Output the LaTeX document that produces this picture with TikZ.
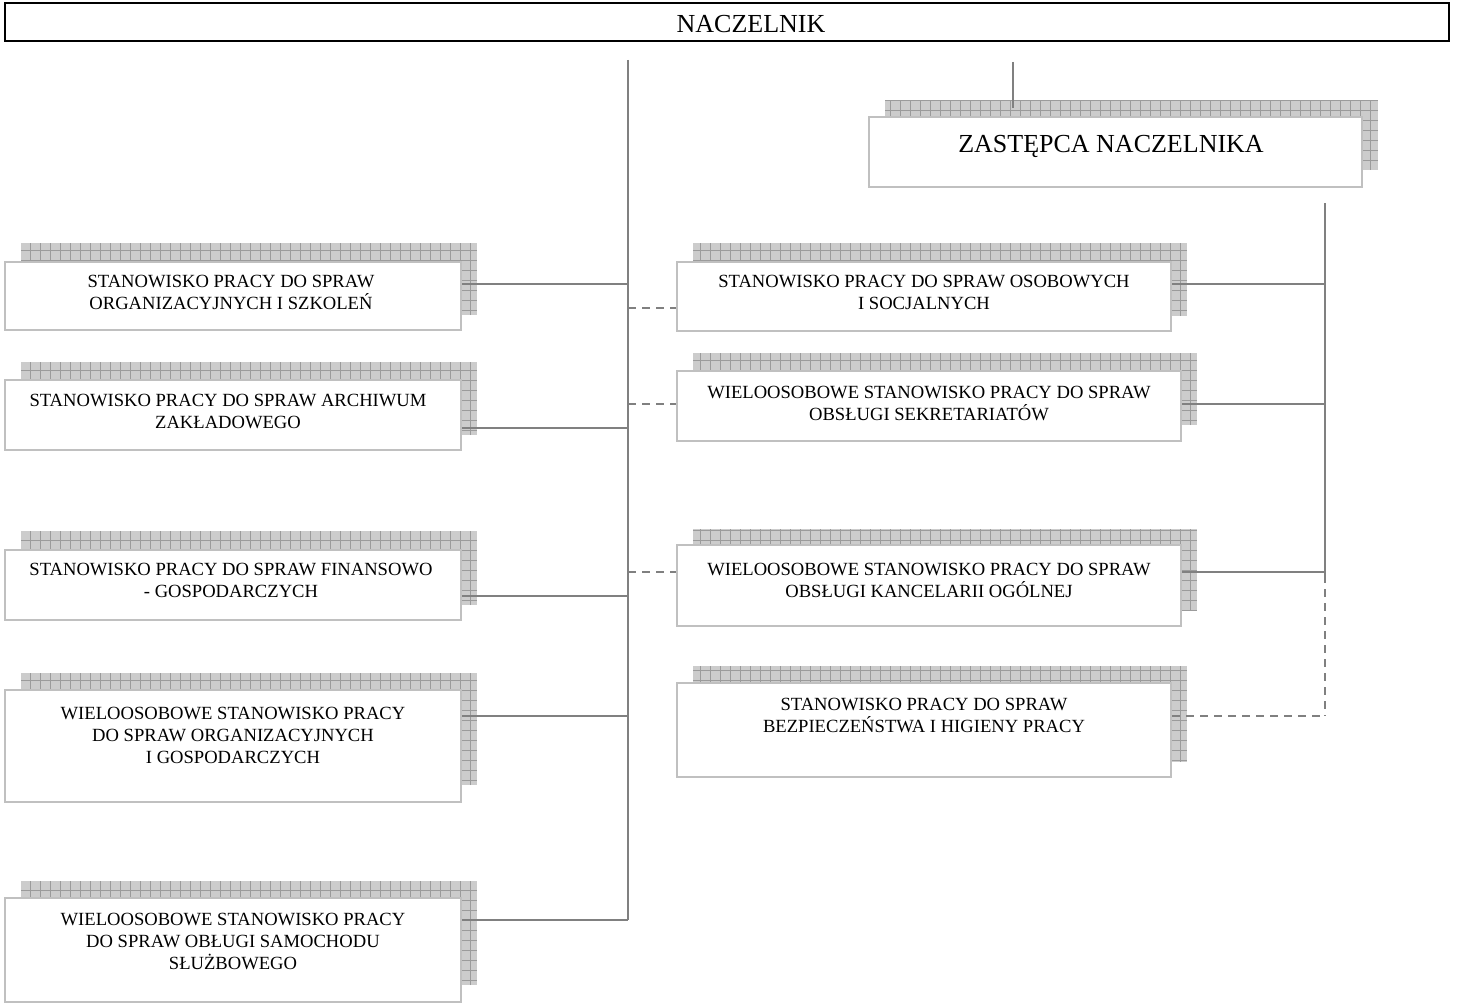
\documentclass[tikz,border=0pt]{standalone}
\usepackage{fontspec}
\setmainfont{Liberation Serif}
\definecolor{boxgray}{RGB}{192,192,192}
\definecolor{linegray}{RGB}{128,128,128}
\definecolor{shfill}{RGB}{204,204,204}
\definecolor{shgrid}{RGB}{155,155,155}
\newcommand\shadowrect[4]{%
  \begin{scope}
    \clip (#1,#2) rectangle (#3,#4);
    \fill[shfill] (#1,#2) rectangle (#3,#4);
    \draw[shgrid, line width=0.8pt, xstep=10pt, ystep=10pt] (#1,#2) grid (#3,#4);
  \end{scope}}
\begin{document}
\begin{tikzpicture}[x=1pt,y=-1pt,
  box/.style={draw=boxgray, line width=2pt, fill=white, inner sep=0pt},
  txt/.style={align=center, inner sep=0pt, font=\fontsize{18.6}{22}\selectfont},
  conn/.style={draw=linegray, line width=2pt},
  dconn/.style={conn, dash pattern=on 8pt off 6pt}]
\useasboundingbox (0,0) rectangle (1458,1003);

% shadows
\shadowrect{885}{100}{1378}{170}
\shadowrect{21}{243}{477}{315}
\shadowrect{21}{362}{477}{435}
\shadowrect{21}{531}{477}{605}
\shadowrect{21}{673}{477}{785}
\shadowrect{21}{881}{477}{985}
\shadowrect{693}{243}{1187}{316}
\shadowrect{693}{353}{1197}{425}
\shadowrect{693}{529}{1197}{610}
\shadowrect{693}{666}{1187}{762}

% top box
\node[draw=black, line width=2pt, minimum width=1444pt, minimum height=38pt, inner sep=0pt] (nacz) at (727,22) {};
\node[inner sep=0pt, font=\fontsize{26}{30}\selectfont] (naczt) at (751,24) {NACZELNIK};

% deputy
\node[box, minimum width=493pt, minimum height=70pt] (zast) at (1115.5,152) {};
\node[inner sep=0pt, font=\fontsize{26}{30}\selectfont] (zastt) at (1111,146) {ZASTĘPCA NACZELNIKA};

% left boxes
\node[box, minimum width=456pt, minimum height=68pt] (l1) at (233,296) {};
\node[txt] (l1t) at (231,292) {STANOWISKO PRACY DO SPRAW\\ORGANIZACYJNYCH I SZKOLEŃ};
\node[box, minimum width=456pt, minimum height=70pt] (l2) at (233,415) {};
\node[txt] (l2t) at (228,411) {STANOWISKO PRACY DO SPRAW ARCHIWUM\\ZAKŁADOWEGO};
\node[box, minimum width=456pt, minimum height=70pt] (l3) at (233,585) {};
\node[txt] (l3t) at (231,580) {STANOWISKO PRACY DO SPRAW FINANSOWO\\- GOSPODARCZYCH};
\node[box, minimum width=456pt, minimum height=112pt] (l4) at (233,746) {};
\node[txt] (l4t) at (233,735) {WIELOOSOBOWE STANOWISKO PRACY\\DO SPRAW ORGANIZACYJNYCH\\I GOSPODARCZYCH};
\node[box, minimum width=456pt, minimum height=104pt] (l5) at (233,950) {};
\node[txt] (l5t) at (233,941) {WIELOOSOBOWE STANOWISKO PRACY\\DO SPRAW OBŁUGI SAMOCHODU\\SŁUŻBOWEGO};

% right boxes
\node[box, minimum width=494pt, minimum height=69pt] (r1) at (924,296.5) {};
\node[txt] (r1t) at (924,292) {STANOWISKO PRACY DO SPRAW OSOBOWYCH\\I SOCJALNYCH};
\node[box, minimum width=504pt, minimum height=70pt] (r2) at (929,406) {};
\node[txt] (r2t) at (929,403) {WIELOOSOBOWE STANOWISKO PRACY DO SPRAW\\OBSŁUGI SEKRETARIATÓW};
\node[box, minimum width=504pt, minimum height=81pt] (r3) at (929,585.5) {};
\node[txt] (r3t) at (929,580) {WIELOOSOBOWE STANOWISKO PRACY DO SPRAW\\OBSŁUGI KANCELARII OGÓLNEJ};
\node[box, minimum width=494pt, minimum height=94pt] (r4) at (924,730) {};
\node[txt] (r4t) at (924,715) {STANOWISKO PRACY DO SPRAW\\BEZPIECZEŃSTWA I HIGIENY PRACY};

% trunk coordinates
\coordinate (mtop) at (628,60);
\coordinate (mbot) at (628,920);
\coordinate (ztop) at (1013,62);
\coordinate (zbot) at (1013,108);
\coordinate (rtop) at (1325,203);
\coordinate (rmid) at (1325,575);
\coordinate (rbot) at (1325,716);

\draw[conn] (mtop) -- (mbot);
\draw[conn] (ztop) -- (zbot);
\draw[conn] (rtop) -- (rmid);
\draw[dconn] (rmid) -- (rbot);

% left connectors
\coordinate (m1) at (628,284);
\coordinate (m2) at (628,428);
\coordinate (m3) at (628,596);
\coordinate (m4) at (628,716);
\coordinate (m5) at (628,920);
\draw[conn] (l1.east |- m1) -- (m1);
\draw[conn] (l2.east |- m2) -- (m2);
\draw[conn] (l3.east |- m3) -- (m3);
\draw[conn] (l4.east |- m4) -- (m4);
\draw[conn] (l5.east |- m5) -- (m5);

% dashed links to right boxes
\coordinate (d1) at (628,308);
\coordinate (d2) at (628,404);
\coordinate (d3) at (628,572);
\draw[dconn] (d1) -- (r1.west |- d1);
\draw[dconn] (d2) -- (r2.west |- d2);
\draw[dconn] (d3) -- (r3.west |- d3);

% right connectors
\coordinate (s1) at (1325,284);
\coordinate (s2) at (1325,404);
\coordinate (s3) at (1325,572);
\draw[conn] (r1.east |- s1) -- (s1);
\draw[conn] (r2.east |- s2) -- (s2);
\draw[conn] (r3.east |- s3) -- (s3);
\draw[dconn] (r4.east |- rbot) -- (rbot);
\end{tikzpicture}
\end{document}
